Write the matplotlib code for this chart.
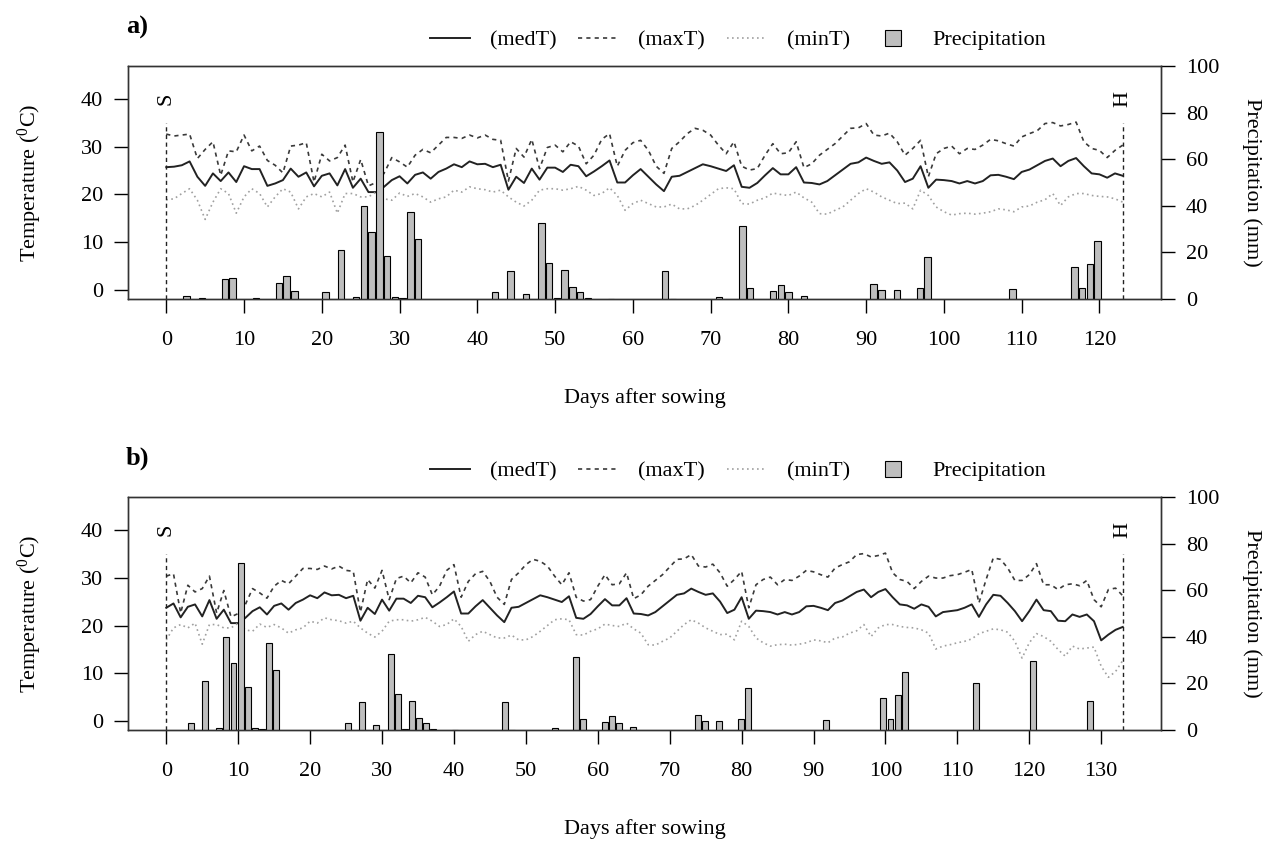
import matplotlib.pyplot as plt
from matplotlib.lines import Line2D
import numpy as np

plt.rcParams['font.family'] = ['Liberation Serif', 'DejaVu Serif']
plt.rcParams['mathtext.fontset'] = 'custom'
plt.rcParams['mathtext.rm'] = 'Liberation Serif'
plt.rcParams['mathtext.it'] = 'Liberation Serif:italic'

# daily weather counted from the first sowing (a); sowing b starts 17 days later
med_t = np.array([
    25.7, 25.8, 26.1, 26.9, 23.7, 21.8, 24.4, 22.8, 24.6, 22.6,
    25.9, 25.3, 25.3, 21.8, 22.3, 23.0, 25.4, 23.7, 24.6, 21.7,
    23.9, 24.4, 21.9, 25.3, 21.4, 23.3, 20.5, 20.5, 21.6, 23.0,
    23.8, 22.3, 24.1, 24.6, 23.3, 24.7, 25.4, 26.3, 25.7, 26.9,
    26.3, 26.4, 25.7, 26.2, 21.0, 23.7, 22.4, 25.4, 23.1, 25.6,
    25.6, 24.7, 26.2, 25.9, 23.8, 24.8, 25.9, 27.1, 22.5, 22.5,
    24.0, 25.3, 23.7, 22.1, 20.7, 23.7, 23.9, 24.7, 25.5, 26.3,
    25.9, 25.4, 24.9, 26.1, 21.6, 21.4, 22.4, 24.0, 25.5, 24.2,
    24.2, 25.7, 22.5, 22.4, 22.1, 22.8, 24.0, 25.2, 26.4, 26.7,
    27.7, 27.0, 26.4, 26.7, 25.0, 22.6, 23.3, 25.9, 21.4, 23.1,
    23.0, 22.8, 22.3, 22.8, 22.3, 22.8, 24.0, 24.1, 23.7, 23.2,
    24.7, 25.2, 26.1, 27.0, 27.5, 25.9, 27.0, 27.6, 25.9, 24.4,
    24.2, 23.5, 24.4, 23.9, 21.9, 22.8, 23.0, 23.2, 23.7, 24.4,
    21.8, 24.4, 26.4, 26.2, 24.7, 23.0, 20.9, 23.0, 25.4, 23.2,
    23.0, 21.0, 20.9, 22.3, 21.8, 22.3, 20.9, 16.9, 18.1, 19.1,
    19.7])

max_t = np.array([
    32.6, 32.2, 32.4, 32.6, 27.5, 29.4, 31.0, 24.0, 29.1, 28.9,
    32.4, 29.1, 30.1, 27.1, 26.1, 24.5, 30.1, 30.3, 30.8, 22.6,
    28.4, 27.0, 27.7, 30.3, 22.6, 27.3, 21.8, 22.5, 24.4, 27.7,
    26.8, 25.7, 28.2, 29.4, 28.7, 30.3, 31.9, 31.9, 31.7, 32.4,
    31.8, 32.4, 31.5, 31.3, 22.8, 29.6, 27.8, 31.5, 25.4, 29.8,
    30.3, 28.9, 31.0, 30.1, 26.4, 28.2, 31.5, 32.7, 25.9, 29.2,
    30.8, 31.3, 29.2, 25.9, 24.4, 29.6, 31.0, 32.7, 33.8, 33.4,
    32.4, 30.3, 28.5, 31.0, 25.9, 25.1, 25.4, 28.2, 30.6, 28.5,
    28.7, 31.0, 25.6, 26.4, 28.2, 29.4, 30.6, 32.2, 33.8, 33.9,
    34.8, 32.4, 32.2, 32.8, 31.0, 28.2, 29.6, 31.3, 23.7, 28.5,
    29.6, 30.1, 28.5, 29.6, 29.4, 30.3, 31.5, 31.2, 30.6, 30.1,
    32.0, 32.7, 33.3, 34.8, 35.0, 34.3, 34.6, 35.1, 31.0, 29.6,
    29.2, 27.7, 29.2, 30.3, 29.9, 29.9, 30.4, 30.6, 31.1, 31.7,
    24.7, 29.6, 34.1, 33.8, 32.0, 29.4, 29.4, 30.6, 32.9, 28.5,
    28.5, 27.5, 28.5, 28.7, 28.3, 29.4, 25.4, 23.9, 27.5, 27.8,
    26.2])

min_t = np.array([
    18.9, 19.1, 20.2, 21.2, 18.8, 14.8, 18.4, 21.2, 20.2, 16.1,
    19.5, 21.2, 20.2, 17.4, 19.5, 21.2, 20.5, 17.0, 19.5, 20.2,
    19.5, 20.5, 16.1, 20.2, 20.2, 19.5, 19.5, 20.5, 19.1, 18.8,
    20.3, 19.6, 20.2, 19.5, 18.4, 19.1, 19.5, 20.9, 20.5, 21.6,
    21.2, 21.0, 20.5, 20.9, 19.5, 18.4, 17.6, 18.8, 20.9, 21.2,
    21.2, 20.9, 21.2, 21.7, 20.9, 19.8, 20.2, 21.4, 19.8, 16.7,
    18.1, 18.8, 18.1, 17.4, 17.4, 18.0, 17.0, 17.0, 17.7, 18.8,
    20.0, 21.2, 21.4, 21.2, 18.1, 18.0, 18.8, 19.3, 20.3, 20.0,
    19.8, 20.5, 19.3, 18.4, 16.0, 15.9, 16.7, 17.4, 18.8, 20.2,
    21.2, 20.5, 19.5, 18.8, 18.1, 18.2, 17.0, 20.9, 19.8, 17.4,
    16.4, 15.7, 16.0, 16.1, 15.9, 16.1, 16.4, 17.0, 16.8, 16.4,
    17.4, 17.6, 18.4, 18.9, 20.2, 17.7, 19.5, 20.2, 20.2, 19.8,
    19.6, 19.5, 19.1, 18.4, 15.1, 15.7, 16.0, 16.4, 16.7, 17.2,
    18.3, 18.8, 19.3, 19.1, 18.6, 16.7, 13.2, 16.4, 18.3, 17.7,
    16.7, 15.0, 13.6, 15.7, 15.1, 15.3, 15.5, 11.5, 9.2, 10.4,
    12.7])

rain_day = np.array([2, 4, 7, 8, 11, 14, 15, 16, 20, 22, 24, 25, 26, 27, 28,
                     29, 30, 31, 32, 42, 44, 46, 48, 49, 50, 51, 52, 53, 54,
                     57, 64, 65, 71, 74, 75, 78, 79, 80, 82, 91, 92, 94, 97,
                     98, 109, 117, 118, 119, 120, 130, 138, 146])
rain_mm = np.array([1.3, 0.3, 8.4, 9.0, 0.6, 7.0, 9.7, 3.4, 3.1, 20.9, 0.9,
                    39.8, 28.9, 71.7, 18.5, 0.7, 0.3, 37.3, 25.9, 2.9, 12.0,
                    2.1, 32.8, 15.5, 0.6, 12.6, 5.2, 2.9, 0.3, 0.1, 12.0, 0.1,
                    0.7, 31.3, 4.7, 3.3, 6.2, 3.1, 1.1, 6.4, 3.7, 3.7, 4.9,
                    18.0, 4.1, 13.7, 4.6, 14.9, 24.7, 20.0, 29.7, 12.6])

panel_labels = ["a)", "b)"]
sowing_day = [0, 17]
season_length = [123, 133]
tick_max = [120, 130]
bar_offset = [0.594, 0.41]
bar_step = 0.993

temp_ticks = [0, 10, 20, 30, 40]
prec_ticks = [0, 20, 40, 60, 80, 100]
legend_labels = ["(medT)", "(maxT)", "(minT)", "Precipitation"]

med_style = dict(color='#222222', lw=1.4)
max_style = dict(color='#3a3a3a', lw=1.2, ls=(0, (2.5, 2.5)))
min_style = dict(color='#a0a0a0', lw=1.2, ls=(0, (1, 2)))
bar_color = '#bebebe'
fs = 16

fig = plt.figure(figsize=(12.65, 8.42), dpi=100)
axes_bottom = [0.6449, 0.133]
label_y = [0.9679, 0.4561]

for k in range(2):
    ax = fig.add_axes([0.1012, axes_bottom[k], 0.8166, 0.2767])
    s0, n = sowing_day[k], season_length[k]
    days = np.arange(n + 1)

    ax.plot(days, med_t[s0:s0 + n + 1], **med_style)
    ax.plot(days, max_t[s0:s0 + n + 1], **max_style)
    ax.plot(days, min_t[s0:s0 + n + 1], **min_style)

    ax.set_xlim(-0.04 * n, 1.04 * n)
    ax.set_ylim(-1.8, 46.8)

    # sowing / harvest markers
    ax.vlines([0, n], -1.8, 35, colors='#222222', lw=1.0,
              linestyles=(0, (3, 2.5)))
    ax.text(0, 40, "S", rotation=90, ha='center', va='center', fontsize=fs)
    ax.text(n, 40, "H", rotation=90, ha='center', va='center', fontsize=fs)

    ax.set_xticks(np.arange(0, tick_max[k] + 1, 10))
    ax.set_yticks(temp_ticks)
    ax.tick_params(axis='x', direction='out', length=10, width=1,
                   labelsize=fs, pad=13)
    ax.tick_params(axis='y', direction='out', length=10, width=1,
                   labelsize=fs, pad=8)

    ax.text(-0.0949, 0.5, r"Temperature ($^{0}$C)", transform=ax.transAxes,
            rotation=90, ha='center', va='center', fontsize=fs)
    ax.text(0.5, -0.425, "Days after sowing", transform=ax.transAxes,
            ha='center', va='center', fontsize=fs)

    # precipitation bars on the right axis
    ax2 = ax.twinx()
    keep = (rain_day >= s0) & (rain_day <= s0 + n)
    pos = bar_offset[k] + bar_step * (rain_day[keep] - s0)
    ax2.bar(pos, rain_mm[keep], width=0.83, color=bar_color,
            edgecolor='black', linewidth=0.8)
    ax2.set_ylim(0, 100)
    ax2.set_yticks(prec_ticks)
    ax2.tick_params(axis='y', direction='out', length=10, width=1,
                    labelsize=fs, pad=8)
    ax2.text(1.088, 0.5, "Precipitation (mm)", transform=ax.transAxes,
             rotation=270, ha='center', va='center', fontsize=fs)

    for a in (ax, ax2):
        for sp in a.spines.values():
            sp.set_linewidth(1.0)
            sp.set_color('#333333')

    handles = [Line2D([], [], **med_style), Line2D([], [], **max_style),
               Line2D([], [], **min_style),
               Line2D([], [], marker='s', ls='none', markersize=11,
                      markerfacecolor=bar_color, markeredgecolor='black',
                      markeredgewidth=0.8)]
    ax2.legend(handles, legend_labels, loc='center',
               bbox_to_anchor=(0.5905, 1.1116), ncol=4, frameon=False,
               fontsize=fs, handlelength=1.8, handletextpad=0.9,
               columnspacing=1.0, borderaxespad=0)

    fig.text(0.0996, label_y[k], panel_labels[k], fontsize=19,
             fontweight='bold', ha='left', va='center')

fig.savefig("out.png", dpi=100)
